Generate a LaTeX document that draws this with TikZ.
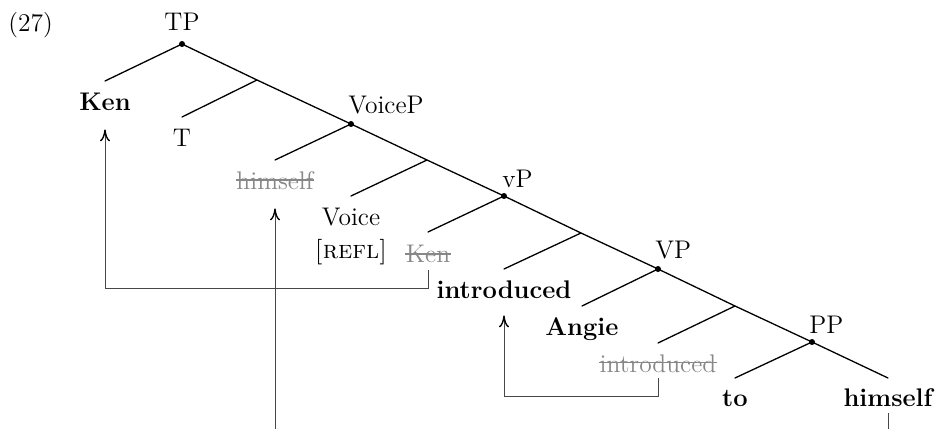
\documentclass[tikz,border=0pt]{standalone}
\usetikzlibrary{arrows.meta}
\definecolor{tracegray}{gray}{0.53}
\tikzset{
  base font/.style={font=\fontsize{12.75pt}{15pt}\selectfont},
  branch/.style={line width=0.65pt, line cap=round},
  phr/.style={base font, anchor=base west, inner sep=0pt},
  plain leaf/.style={base font, anchor=base, inner sep=0pt, text depth=0pt},
  bold leaf/.style={font=\fontsize{12.75pt}{15pt}\selectfont\bfseries, anchor=base, inner sep=0pt, text depth=0pt},
  trace leaf/.style={base font, anchor=base, inner sep=0pt, text depth=0pt, text=tracegray},
  strikeline/.style={draw=tracegray, line width=0.9pt},
  mv/.style={line width=0.5pt, draw=black!72, -{To[length=6pt,width=5pt,line width=0.7pt,black]}},
  pdot/.style={circle, fill=black, minimum size=3pt, inner sep=0pt, outer sep=0pt}
}
\begin{document}
\begin{tikzpicture}[x=0.5pt,y=-0.5pt]
\useasboundingbox (0,0) rectangle (939,429);
\clip (0,0) rectangle (939,429);

% example number and phrase labels
\node[phr] (ex) at (8,31) {(27)};
\node[base font, anchor=base, inner sep=0pt] (lTP) at (182,30) {TP};
\node[phr] (lVoiceP) at (348,113) {VoiceP};
\node[phr] (lvP) at (502,187) {vP};
\node[phr] (lVP) at (655,258) {VP};
\node[phr] (lPP) at (809,333) {PP};

% phrase points
\node[pdot] (nTP) at (182,44) {};
\node[pdot] (nVoiceP) at (351,124) {};
\node[pdot] (nvP) at (504,196) {};
\node[pdot] (nVP) at (658,269) {};
\node[pdot] (nPP) at (812,342) {};

% bar-level points
\coordinate (bT) at (257,80);
\coordinate (bVoice) at (427,160);
\coordinate (bv) at (581,233);
\coordinate (bV) at (735,306);

% branch ends
\coordinate (eKen) at (105,81);
\coordinate (eT) at (182,117);
\coordinate (eHimA) at (275,160);
\coordinate (eVoice) at (351,196);
\coordinate (eKenB) at (428,232);
\coordinate (eIntroA) at (504,269);
\coordinate (eAngie) at (582,306);
\coordinate (eIntroB) at (658,343);
\coordinate (eTo) at (735,378);
\coordinate (eHim) at (888,378);

% spine
\draw[branch] (nTP.center) -- (bT) -- (nVoiceP.center) -- (bVoice) -- (nvP.center)
  -- (bv) -- (nVP.center) -- (bV) -- (nPP.center) -- (eHim);
% left branches
\draw[branch] (nTP.center) -- (eKen);
\draw[branch] (bT) -- (eT);
\draw[branch] (nVoiceP.center) -- (eHimA);
\draw[branch] (bVoice) -- (eVoice);
\draw[branch] (nvP.center) -- (eKenB);
\draw[branch] (bv) -- (eIntroA);
\draw[branch] (nVP.center) -- (eAngie);
\draw[branch] (bV) -- (eIntroB);
\draw[branch] (nPP.center) -- (eTo);

% leaves
\node[bold leaf] (Ken) at (105,110) {Ken};
\node[plain leaf] (T) at (182,146) {T};
\node[trace leaf] (himA) at (275,189) {himself};
\node[plain leaf] (Voice) at (351,225) {Voice};
\node[base font, anchor=base, inner sep=0pt] (refl) at (351,258) {\textsc{[refl]}};
\node[trace leaf] (KenB) at (428,262) {Ken};
\node[bold leaf] (introA) at (504,298) {introduced};
\node[bold leaf] (Angie) at (582,335) {Angie};
\node[trace leaf] (introB) at (658,372) {introduced};
\node[bold leaf] (to) at (735,406) {to};
\node[bold leaf] (him) at (888,406) {himself};

% strike-through of traces
\draw[strikeline] ([yshift=4.5pt]himA.base west) -- ([yshift=4.5pt]himA.base east);
\draw[strikeline] ([yshift=4.2pt]KenB.base west) -- ([yshift=4.2pt]KenB.base east);
\draw[strikeline] ([yshift=4.8pt]introB.base west) -- ([yshift=4.8pt]introB.base east);

% movement arrows
\coordinate (rowKen) at (0,288);
\coordinate (rowIntro) at (0,396);
\coordinate (rowHim) at (0,460);
\draw[mv] ([yshift=-4pt]KenB.south) -- (KenB.south |- rowKen) -| ([yshift=-9.5pt]Ken.south);
\draw[mv] ([yshift=-3pt]introB.south) -- (introB.south |- rowIntro) -| ([yshift=-8.5pt]introA.south);
\draw[mv] ([yshift=-3.5pt]him.south) -- (him.south |- rowHim) -| ([yshift=-9.5pt]himA.south);
\end{tikzpicture}
\end{document}
